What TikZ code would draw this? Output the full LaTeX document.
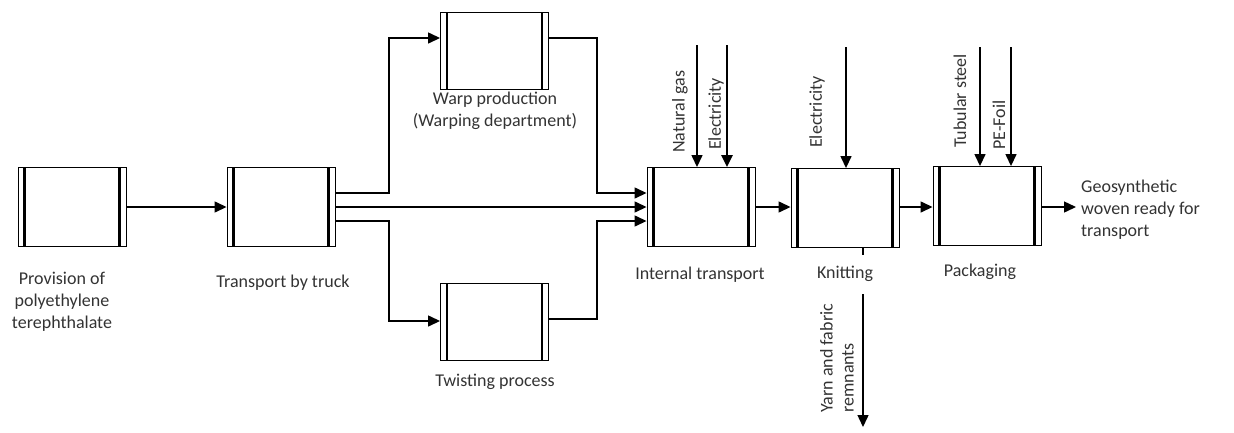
\documentclass[tikz,border=0pt]{standalone}
\usepackage{fontspec}
\setmainfont{Carlito}
\usetikzlibrary{arrows.meta,calc}
\begin{document}
\begin{tikzpicture}[x=1pt,y=-1pt,
  proc/.style={draw, line width=0.9pt, rectangle, minimum width=108pt, minimum height=79pt, inner sep=0pt,
    path picture={
      \draw[line width=2.4pt] ([xshift=6.5pt]path picture bounding box.north west) -- ([xshift=6.5pt]path picture bounding box.south west);
      \draw[line width=2.4pt] ([xshift=-6.5pt]path picture bounding box.north east) -- ([xshift=-6.5pt]path picture bounding box.south east);
    }},
  arr/.style={line width=1.4pt, -{Triangle[length=12pt,width=11pt]}},
  lbl/.style={text=black!80, font=\fontsize{18}{22}\selectfont, align=center, inner sep=1pt},
  vlbl/.style={text=black!80, font=\fontsize{18}{21}\selectfont, rotate=90, anchor=west, inner sep=0pt, align=left},
]
\useasboundingbox (0,0) rectangle (1234,432);

\node[proc] (b1) at (72,207) {};
\node[proc] (b2) at (281,207) {};
\node[proc, minimum height=77pt] (warp) at (494.5,50.5) {};
\node[proc, minimum height=77pt] (twist) at (494.5,321.5) {};
\node[proc] (it) at (701,207) {};
\node[proc] (kn) at (845,208) {};
\node[proc] (pk) at (987,206) {};

\node[lbl] (l1) at (62,302) {Provision of\\polyethylene\\terephthalate};
\node[lbl] (l2) at (283,283) {Transport by truck};
\node[lbl] (l3) at (495,111) {Warp production\\(Warping department)};
\node[lbl] (l4) at (495,382) {Twisting process};
\node[lbl] (l5) at (700,275) {Internal transport};
\node[lbl] (l7) at (980,272) {Packaging};
\node[lbl, align=left, anchor=west] (l8) at (1080,210) {Geosynthetic\\woven ready for\\transport};

% main flow
\draw[arr] (b1.east) -- (b2.west);
\draw[arr] (b2.east |- 0,193) -- (389,193) |- (warp.west |- 0,38);
\draw[arr] (warp.east |- 0,38) -- (597,38) |- (it.west |- 0,193);
\draw[arr] (b2.east |- 0,207) -- (it.west |- 0,207);
\draw[arr] (b2.east |- 0,221) -- (389,221) |- (twist.west |- 0,321);
\draw[arr] (twist.east |- 0,319) -- (597,319) |- (it.west |- 0,221);
\draw[arr] (it.east |- 0,207) -- (kn.west |- 0,207);
\draw[arr] (kn.east |- 0,207) -- (pk.west |- 0,207);
\coordinate (out) at (1076,207);
\draw[arr] (pk.east |- 0,207) -- (out);

% inputs
\coordinate (ng) at (697,45);
\coordinate (el1) at (727,45);
\coordinate (el2) at (846,47);
\coordinate (ts) at (980,47);
\coordinate (pe) at (1011,47);
\draw[arr] (ng) -- (it.north -| ng);
\draw[arr, line width=2.4pt] (el1) -- (it.north -| el1);
\draw[arr] (el2) -- (kn.north -| el2);
\draw[arr] (ts) -- (pk.north -| ts);
\draw[arr] (pe) -- (pk.north -| pe);

\node[vlbl] (vng) at (680,153) {Natural gas};
\node[vlbl] (vel1) at (716,150) {Electricity};
\node[vlbl] (vel2) at (817,148) {Electricity};
\node[vlbl] (vts) at (960,148) {Tubular steel};
\node[vlbl] (vpe) at (999,150) {PE-Foil};

% output yarn
\coordinate (yarn) at (863,427);
\draw[arr] (kn.south -| yarn) -- (yarn);
\node[lbl, fill=white, minimum height=39pt] (l6) at (845,274) {Knitting};
\node[vlbl] (vy) at (837,413) {Yarn and fabric\\remnants};
\end{tikzpicture}
\end{document}
